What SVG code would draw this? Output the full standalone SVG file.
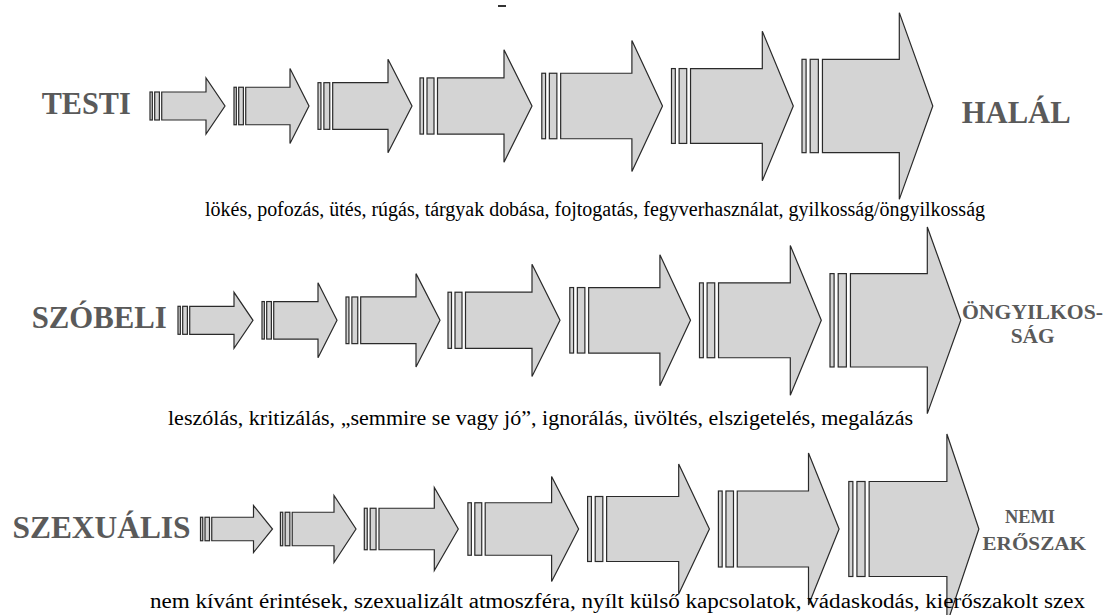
<svg xmlns="http://www.w3.org/2000/svg" xmlns:xlink="http://www.w3.org/1999/xlink" width="1105" height="615" viewBox="0 0 1105 615">
<style>
.ar rect, .ar path { fill: #d4d4d4; stroke: #2a2a2a; stroke-width: 1.2; stroke-linejoin: miter; }
.lab { font-family: 'Liberation Serif', 'DejaVu Serif', serif; font-weight: bold; fill: #5a5a5a; }
.cap { font-family: 'Liberation Serif', 'DejaVu Serif', serif; font-size: 20px; fill: #000; }
</style>
<defs>
<g id="s1" class="ar"><rect x="0" y="-14" width="2.34" height="28"/><rect x="4.69" y="-14" width="4.69" height="28"/><path d="M11.72,-14 H56 V-28 L75,0 L56,28 V14 H11.72 Z"/></g>
<g id="s2" class="ar"><rect x="0" y="-18.75" width="2.34" height="37.5"/><rect x="4.69" y="-18.75" width="4.69" height="37.5"/><path d="M11.72,-18.75 H56 V-37.5 L75,0 L56,37.5 V18.75 H11.72 Z"/></g>
<g id="s3" class="ar"><rect x="0" y="-23.33" width="2.94" height="46.67"/><rect x="5.88" y="-23.33" width="5.88" height="46.67"/><path d="M14.69,-23.33 H70 V-46.67 L94,0 L70,46.67 V23.33 H14.69 Z"/></g>
<g id="s4" class="ar"><rect x="0" y="-28.08" width="3.5" height="56.15"/><rect x="7" y="-28.08" width="7" height="56.15"/><path d="M17.5,-28.08 H84 V-56.15 L112,0 L84,56.15 V28.08 H17.5 Z"/></g>
<g id="s5" class="ar"><rect x="0" y="-32.75" width="3.77" height="65.5"/><rect x="7.54" y="-32.75" width="7.54" height="65.5"/><path d="M18.86,-32.75 H90.1 V-65.5 L120.7,0 L90.1,65.5 V32.75 H18.86 Z"/></g>
<g id="s6" class="ar"><rect x="0" y="-37.43" width="3.81" height="74.85"/><rect x="7.61" y="-37.43" width="7.61" height="74.85"/><path d="M19.03,-37.43 H90.8 V-74.85 L121.8,0 L90.8,74.85 V37.43 H19.03 Z"/></g>
<g id="s7" class="ar"><rect x="0" y="-46.68" width="4.09" height="93.35"/><rect x="8.18" y="-46.68" width="8.18" height="93.35"/><path d="M20.44,-46.68 H97.3 V-93.35 L130.8,0 L97.3,93.35 V46.68 H20.44 Z"/></g>
<g id="b1" class="ar"><rect x="0" y="-11.75" width="2.25" height="23.5"/><rect x="4.5" y="-11.75" width="4.5" height="23.5"/><path d="M11.25,-11.75 H53 V-23.5 L72,0 L53,23.5 V11.75 H11.25 Z"/></g>
<g id="b2" class="ar"><rect x="0" y="-16.75" width="2.36" height="33.5"/><rect x="4.73" y="-16.75" width="4.73" height="33.5"/><path d="M11.81,-16.75 H53.6 V-33.5 L75.6,0 L53.6,33.5 V16.75 H11.81 Z"/></g>
<g id="b3" class="ar"><rect x="0" y="-20.75" width="2.94" height="41.5"/><rect x="5.88" y="-20.75" width="5.88" height="41.5"/><path d="M14.69,-20.75 H70 V-41.5 L94,0 L70,41.5 V20.75 H14.69 Z"/></g>
<g id="b4" class="ar"><rect x="0" y="-26.25" width="3.46" height="52.5"/><rect x="6.92" y="-26.25" width="6.92" height="52.5"/><path d="M17.3,-26.25 H83.7 V-52.5 L110.7,0 L83.7,52.5 V26.25 H17.3 Z"/></g>
<g id="b5" class="ar"><rect x="0" y="-32.5" width="3.81" height="65"/><rect x="7.61" y="-32.5" width="7.61" height="65"/><path d="M19.03,-32.5 H91.1 V-65 L121.8,0 L91.1,65 V32.5 H19.03 Z"/></g>
<g id="b6" class="ar"><rect x="0" y="-38" width="3.77" height="76"/><rect x="7.54" y="-38" width="7.54" height="76"/><path d="M18.86,-38 H90.1 V-76 L120.7,0 L90.1,76 V38 H18.86 Z"/></g>
<g id="b7" class="ar"><rect x="0" y="-47.5" width="4.07" height="95"/><rect x="8.13" y="-47.5" width="8.13" height="95"/><path d="M20.33,-47.5 H98.1 V-95 L130.1,0 L98.1,95 V47.5 H20.33 Z"/></g>
</defs>
<rect x="0" y="0" width="1105" height="615" fill="#ffffff"/>
<rect x="498" y="5" width="8" height="2" fill="#333"/>

<g id="connectors">
<g id="testi-arrows">
<g id="t1" transform="translate(150,106)"><use xlink:href="#s1" href="#s1"/></g>
<g id="t2" transform="translate(234,106)"><use xlink:href="#s2" href="#s2"/></g>
<g id="t3" transform="translate(318,106)"><use xlink:href="#s3" href="#s3"/></g>
<g id="t4" transform="translate(420,106)"><use xlink:href="#s4" href="#s4"/></g>
<g id="t5" transform="translate(541.8,106)"><use xlink:href="#s5" href="#s5"/></g>
<g id="t6" transform="translate(671.5,106)"><use xlink:href="#s6" href="#s6"/></g>
<g id="t7" transform="translate(802,106)"><use xlink:href="#s7" href="#s7"/></g>
</g>
<g id="szobeli-arrows">
<g id="v1" transform="translate(178,320.3)"><use xlink:href="#s1" href="#s1"/></g>
<g id="v2" transform="translate(262,320.3)"><use xlink:href="#s2" href="#s2"/></g>
<g id="v3" transform="translate(346,320.3)"><use xlink:href="#s3" href="#s3"/></g>
<g id="v4" transform="translate(448,320.3)"><use xlink:href="#s4" href="#s4"/></g>
<g id="v5" transform="translate(569.8,320.3)"><use xlink:href="#s5" href="#s5"/></g>
<g id="v6" transform="translate(699.5,320.3)"><use xlink:href="#s6" href="#s6"/></g>
<g id="v7" transform="translate(830,320.3)"><use xlink:href="#s7" href="#s7"/></g>
</g>
<g id="szexualis-arrows">
<g id="x1" transform="translate(200.5,529)"><use xlink:href="#b1" href="#b1"/></g>
<g id="x2" transform="translate(280.4,529)"><use xlink:href="#b2" href="#b2"/></g>
<g id="x3" transform="translate(364.3,529)"><use xlink:href="#b3" href="#b3"/></g>
<g id="x4" transform="translate(467.9,529)"><use xlink:href="#b4" href="#b4"/></g>
<g id="x5" transform="translate(587.6,529)"><use xlink:href="#b5" href="#b5"/></g>
<g id="x6" transform="translate(718.4,529)"><use xlink:href="#b6" href="#b6"/></g>
<g id="x7" transform="translate(848.8,529)"><use xlink:href="#b7" href="#b7"/></g>
</g>
</g>

<g id="node-testi"><text class="lab" font-family="Liberation Serif, DejaVu Serif, serif" x="41.7" y="114.3" font-size="31" textLength="89" lengthAdjust="spacingAndGlyphs">TESTI</text></g>
<g id="node-halal"><text class="lab" font-family="Liberation Serif, DejaVu Serif, serif" x="961.7" y="122.7" font-size="32" textLength="109" lengthAdjust="spacingAndGlyphs">HALÁL</text></g>
<g id="node-szobeli"><text class="lab" font-family="Liberation Serif, DejaVu Serif, serif" x="31.7" y="328.3" font-size="31" textLength="135" lengthAdjust="spacingAndGlyphs">SZÓBELI</text></g>
<g id="node-ongyilkossag">
<text class="lab" font-family="Liberation Serif, DejaVu Serif, serif" x="962" y="319.3" font-size="21.5" textLength="141" lengthAdjust="spacingAndGlyphs">ÖNGYILKOS-</text>
<text class="lab" font-family="Liberation Serif, DejaVu Serif, serif" x="1010.7" y="342.7" font-size="21.5" textLength="44" lengthAdjust="spacingAndGlyphs">SÁG</text>
</g>
<g id="node-szexualis"><text class="lab" font-family="Liberation Serif, DejaVu Serif, serif" x="12.5" y="538.3" font-size="32" textLength="178" lengthAdjust="spacingAndGlyphs">SZEXUÁLIS</text></g>
<g id="node-nemi-eroszak">
<text class="lab" font-family="Liberation Serif, DejaVu Serif, serif" x="1005" y="523.3" font-size="19.5" textLength="50" lengthAdjust="spacingAndGlyphs">NEMI</text>
<text class="lab" font-family="Liberation Serif, DejaVu Serif, serif" x="982.5" y="550" font-size="19.5" textLength="103.5" lengthAdjust="spacingAndGlyphs">ERŐSZAK</text>
</g>

<g id="caption-testi"><text class="cap" font-family="Liberation Serif, DejaVu Serif, serif" x="205" y="216" textLength="780" lengthAdjust="spacingAndGlyphs">lökés, pofozás, ütés, rúgás, tárgyak dobása, fojtogatás, fegyverhasználat, gyilkosság/öngyilkosság</text></g>
<g id="caption-szobeli"><text class="cap" font-family="Liberation Serif, DejaVu Serif, serif" x="168" y="425" textLength="745" lengthAdjust="spacingAndGlyphs">leszólás, kritizálás, „semmire se vagy jó”, ignorálás, üvöltés, elszigetelés, megalázás</text></g>
<g id="caption-szexualis"><text class="cap" font-family="Liberation Serif, DejaVu Serif, serif" x="150" y="608" textLength="935" lengthAdjust="spacingAndGlyphs">nem kívánt érintések, szexualizált atmoszféra, nyílt külső kapcsolatok, vádaskodás, kierőszakolt szex</text></g>
</svg>
